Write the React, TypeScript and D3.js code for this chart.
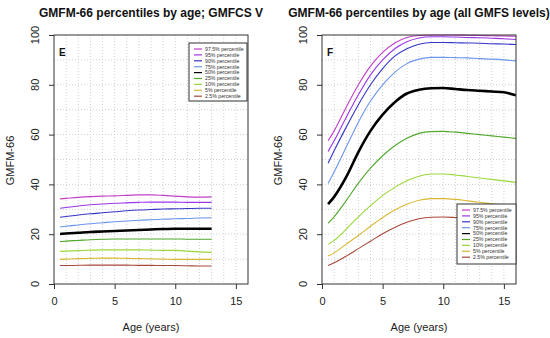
import React, { useRef, useEffect } from "react";
import * as d3 from "d3";

// percentile labels + colours (legend order, top to bottom)
const percentiles = [
  "97.5% percentile",
  "95% percentile",
  "90% percentile",
  "75% percentile",
  "50% percentile",
  "25% percentile",
  "10% percentile",
  "5% percentile",
  "2.5% percentile",
];
const colors = [
  "#c23fc8",
  "#9a35ea",
  "#3434c8",
  "#6b95ec",
  "#000000",
  "#4fa82a",
  "#9ad83a",
  "#d8b832",
  "#a8483a",
];

// Panel E: GMFCS V
const agesE = [0.5, 1, 2, 3, 4, 5, 6, 7, 8, 9, 10, 11, 12, 13];
const valuesE = [
  [34.2, 34.4, 34.8, 35.1, 35.3, 35.4, 35.6, 35.8, 35.8, 35.6, 35.3, 35.0, 34.9, 35.0],
  [30.4, 30.7, 31.3, 31.8, 32.1, 32.4, 32.6, 32.8, 32.9, 32.9, 32.9, 32.8, 32.8, 32.8],
  [26.8, 27.1, 27.7, 28.2, 28.6, 29.0, 29.4, 29.7, 29.9, 30.1, 30.2, 30.3, 30.4, 30.4],
  [22.9, 23.2, 23.7, 24.2, 24.6, 25.0, 25.3, 25.6, 25.8, 26.0, 26.2, 26.3, 26.5, 26.6],
  [20.1, 20.3, 20.6, 20.9, 21.1, 21.3, 21.5, 21.7, 21.9, 22.1, 22.2, 22.2, 22.2, 22.2],
  [17.0, 17.2, 17.5, 17.8, 18.0, 18.1, 18.1, 18.1, 18.1, 18.1, 18.1, 18.0, 18.0, 18.0],
  [13.1, 13.2, 13.4, 13.6, 13.7, 13.7, 13.7, 13.7, 13.6, 13.5, 13.5, 13.2, 12.9, 12.7],
  [9.9, 10.0, 10.2, 10.3, 10.4, 10.4, 10.3, 10.2, 10.1, 10.0, 9.9, 9.9, 9.9, 9.9],
  [7.4, 7.4, 7.5, 7.6, 7.6, 7.6, 7.6, 7.5, 7.5, 7.4, 7.4, 7.3, 7.2, 7.2],
];

// Panel F: all GMFCS levels
const agesF = [0.5, 1, 2, 3, 4, 5, 6, 7, 8, 9, 10, 11, 12, 13, 14, 15, 16];
const valuesF = [
  [57.5, 61.5, 71, 80, 87.5, 93, 96.8, 99, 99.8, 100, 100, 100, 99.9, 99.8, 99.7, 99.6, 99.5],
  [53.2, 57.5, 67, 76, 84, 90, 94.5, 97.3, 98.8, 99.3, 99.3, 99.2, 99, 98.9, 98.7, 98.5, 98.2],
  [48.5, 53.5, 63, 72, 80, 86.5, 91.5, 94.5, 96.3, 97, 97, 96.9, 96.8, 96.7, 96.5, 96.4, 96.2],
  [40.4, 45, 55, 65, 73.5, 80, 85, 88.5, 90.3, 91, 91, 90.9, 90.8, 90.5, 90.3, 90, 89.6],
  [32.1, 35, 43, 53, 61.5, 68, 73, 76.5, 78, 78.6, 78.7, 78.3, 77.9, 77.6, 77.3, 77, 75.8],
  [24.4, 27, 33.5, 40.5, 46.5, 51.5, 55.5, 58.5, 60.5, 61.2, 61.3, 61, 60.5, 60, 59.5, 59, 58.5],
  [15.9, 17.5, 22, 27, 31.5, 35.5, 38.8, 41.5, 43.3, 44.2, 44.2, 43.8, 43.2, 42.6, 42, 41.4, 40.8],
  [11.2, 12.5, 16, 19.5, 23.2, 26.7, 29.7, 32, 33.6, 34.3, 34.3, 34, 33.4, 32.8, 32.2, 31.7, 31.2],
  [7.4, 8.5, 11.2, 14.2, 17.2, 20.2, 22.7, 24.8, 26.2, 26.8, 26.9, 26.7, 26.4, 26, 25.6, 25.2, 24.8],
];

const titles = ["GMFM-66 percentiles by age; GMFCS V", "GMFM-66 percentiles by age (all GMFS levels)"];
const panelTags = ["E", "F"];
const xTicks = [0, 5, 10, 15];
const yTicks = [0, 20, 40, 60, 80, 100];

const FONT = "'Liberation Sans', Arial, Helvetica, sans-serif";

export default function App() {
  const svgRef = useRef<SVGSVGElement>(null);

  useEffect(() => {
    if (!svgRef.current) return;
    const svg = d3.select(svgRef.current);
    svg.selectAll("*").remove();

    const panels = [
      { left: 54, ages: agesE, values: valuesE, legend: { x: 189, y: 43, w: 58, h: 58 } },
      { left: 322, ages: agesF, values: valuesF, legend: { x: 457, y: 204, w: 59, h: 60 } },
    ];
    const plotW = 194;
    const top = 35;
    const bottom = 284;

    panels.forEach((p, pi) => {
      const x = d3.scaleLinear().domain([0, 16]).range([p.left, p.left + plotW]);
      const y = d3.scaleLinear().domain([0, 100]).range([bottom, top]);
      const g = svg.append("g");

      const clipId = `clip-${pi}`;
      g.append("clipPath")
        .attr("id", clipId)
        .append("rect")
        .attr("x", p.left)
        .attr("y", top - 1)
        .attr("width", plotW)
        .attr("height", bottom - top + 1);

      // grid (dotted, every year / every 10 points)
      g.selectAll(".vgrid")
        .data(d3.range(1, 16))
        .enter()
        .append("line")
        .attr("x1", (d) => x(d))
        .attr("x2", (d) => x(d))
        .attr("y1", top)
        .attr("y2", bottom)
        .attr("stroke", "#d0d0d0")
        .attr("stroke-dasharray", "1,2");
      g.selectAll(".hgrid")
        .data(d3.range(10, 100, 10))
        .enter()
        .append("line")
        .attr("x1", p.left)
        .attr("x2", p.left + plotW)
        .attr("y1", (d) => y(d))
        .attr("y2", (d) => y(d))
        .attr("stroke", "#d0d0d0")
        .attr("stroke-dasharray", "1,2");

      // percentile curves
      const line = d3
        .line<number>()
        .x((_, i) => x(p.ages[i]))
        .y((d) => y(d))
        .curve(d3.curveMonotoneX);

      const lines = g.append("g").attr("clip-path", `url(#${clipId})`);
      p.values.forEach((vals, i) => {
        lines
          .append("path")
          .datum(vals)
          .attr("fill", "none")
          .attr("stroke", colors[i])
          .attr("stroke-width", i === 4 ? 2.6 : 1.1)
          .attr("d", line);
      });

      // box
      g.append("rect")
        .attr("x", p.left)
        .attr("y", top)
        .attr("width", plotW)
        .attr("height", bottom - top)
        .attr("fill", "none")
        .attr("stroke", "#333")
        .attr("stroke-width", 1);

      // axes
      const xAxis = g
        .append("g")
        .attr("transform", `translate(0,${bottom})`)
        .call(d3.axisBottom(x).tickValues(xTicks).tickSize(5).tickPadding(8));
      xAxis.select(".domain").remove();
      xAxis.selectAll("line").attr("stroke", "#333");
      xAxis
        .selectAll("text")
        .attr("font-family", FONT)
        .attr("font-size", 11)
        .attr("fill", "#222");

      const yAxis = g
        .append("g")
        .attr("transform", `translate(${p.left},0)`)
        .call(d3.axisLeft(y).tickValues(yTicks).tickSize(5).tickFormat(() => ""));
      yAxis.select(".domain").remove();
      yAxis.selectAll("line").attr("stroke", "#333");

      g.selectAll(".ylab")
        .data(yTicks)
        .enter()
        .append("text")
        .attr("transform", (d) => `translate(${p.left - 15},${y(d)}) rotate(-90)`)
        .attr("text-anchor", "middle")
        .attr("font-family", FONT)
        .attr("font-size", 11)
        .attr("fill", "#222")
        .text((d) => d);

      // labels
      g.append("text")
        .attr("x", p.left + plotW / 2)
        .attr("y", 331)
        .attr("text-anchor", "middle")
        .attr("font-family", FONT)
        .attr("font-size", 11)
        .attr("fill", "#222")
        .text("Age (years)");
      g.append("text")
        .attr("transform", `translate(${p.left - 40},${(top + bottom) / 2 + 1}) rotate(-90)`)
        .attr("text-anchor", "middle")
        .attr("font-family", FONT)
        .attr("font-size", 11)
        .attr("fill", "#222")
        .text("GMFM-66");
      g.append("text")
        .attr("x", p.left + plotW / 2)
        .attr("y", 17)
        .attr("text-anchor", "middle")
        .attr("font-family", FONT)
        .attr("font-size", 12)
        .attr("font-weight", "bold")
        .attr("fill", "#111")
        .text(titles[pi]);
      g.append("text")
        .attr("x", p.left + 5)
        .attr("y", 56)
        .attr("font-family", FONT)
        .attr("font-size", 10)
        .attr("font-weight", "bold")
        .attr("fill", "#111")
        .text(panelTags[pi]);

      // legend
      const L = p.legend;
      const lg = g.append("g");
      lg.append("rect")
        .attr("x", L.x)
        .attr("y", L.y)
        .attr("width", L.w)
        .attr("height", L.h)
        .attr("fill", "#fff")
        .attr("stroke", "#333")
        .attr("stroke-width", 1);
      percentiles.forEach((lab, i) => {
        const yy = L.y + 6 + i * 5.9;
        lg.append("line")
          .attr("x1", L.x + 5)
          .attr("x2", L.x + 13)
          .attr("y1", yy)
          .attr("y2", yy)
          .attr("stroke", colors[i])
          .attr("stroke-width", 1.2);
        lg.append("text")
          .attr("x", L.x + 16)
          .attr("y", yy + 1.8)
          .attr("font-family", FONT)
          .attr("font-size", 5.2)
          .attr("fill", "#333")
          .text(lab);
      });
    });
  }, []);

  return (
    <svg
      ref={svgRef}
      width={550}
      height={338}
      style={{ position: "absolute", left: 0, top: 0, background: "#fff" }}
    />
  );
}
